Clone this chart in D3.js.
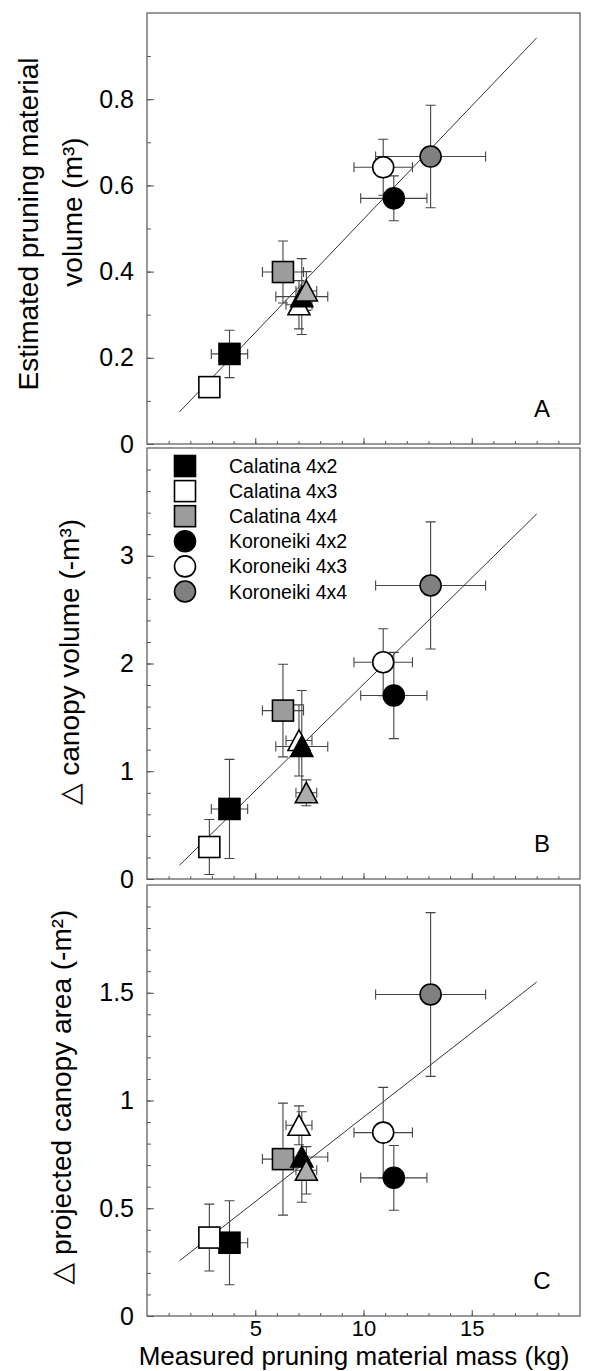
<!DOCTYPE html>
<html>
<head>
<meta charset="utf-8">
<script src="https://cdn.jsdelivr.net/npm/d3@7"></script>
<style>
  html, body { margin: 0; padding: 0; background: #fff; }
  svg { display: block; }
  text { font-family: "Liberation Sans", Arial, "DejaVu Sans", sans-serif; fill: #000; }
</style>
</head>
<body>
<svg id="chart" width="593" height="1371"></svg>
<script>
// Treatments (the triangle group is not named in the original legend)
const groups = ['Calatina 4x2', 'Calatina 4x3', 'Calatina 4x4',
                'Koroneiki 4x2', 'Koroneiki 4x3', 'Koroneiki 4x4',
                'Triangle 4x2', 'Triangle 4x3', 'Triangle 4x4'];
const legendGroups = groups.slice(0, 6);

// Measured pruning material mass (kg) and its error
const massKg  = [3.81, 2.88, 6.28, 11.40, 10.91, 13.10, 7.15, 7.02, 7.36];
const massErr = [0.84, 0.40, 0.95, 1.53, 1.35, 2.54, 1.20, 0.60, 0.48];

// Panel A: estimated pruning material volume (m3)
const volumeA    = [0.209, 0.132, 0.399, 0.570, 0.642, 0.667, 0.342, 0.323, 0.355];
const volumeAErr = [0.055, 0.020, 0.072, 0.052, 0.065, 0.119, 0.088, 0.056, 0.045];

// Panel B: delta canopy volume (-m3)
const canopyB    = [0.65, 0.297, 1.563, 1.703, 2.012, 2.724, 1.23, 1.286, 0.80];
const canopyBErr = [0.46, 0.255, 0.43, 0.40, 0.31, 0.59, 0.52, 0.33, 0.12];

// Panel C: delta projected canopy area (-m2)
const areaC    = [0.34, 0.364, 0.728, 0.641, 0.851, 1.492, 0.738, 0.885, 0.676];
const areaCErr = [0.195, 0.155, 0.26, 0.15, 0.21, 0.38, 0.21, 0.09, 0.11];

// Linear fits drawn in each panel
const fitSlope     = [0.0526, 0.1976, 0.0784];
const fitIntercept = [-0.0045, -0.169, 0.1385];
const fitRange     = [1.5, 18];

// Axis ticks / labels
const xMajorTicks = [5, 10, 15];
const xTickLabels = ['5', '10', '15'];
const yMajorTicks = [[0, 0.2, 0.4, 0.6, 0.8], [0, 1, 2, 3], [0, 0.5, 1, 1.5]];
const yTickLabels = [['0', '0.2', '0.4', '0.6', '0.8'], ['0', '1', '2', '3'], ['0', '0.5', '1', '1.5']];
const yDomains    = [[0, 1], [0, 4], [0, 2]];
const yMinorStep  = [0.1, 0.2, 0.1];
const panelLetters = ['A', 'B', 'C'];

// styles
const shapes = ['square', 'square', 'square', 'circle', 'circle', 'circle', 'triangle', 'triangle', 'triangle'];
const fills  = ['#000', '#fff', '#9c9c9c', '#000', '#fff', '#808080', '#000', '#fff', '#acacac'];
const drawOrder = [0, 1, 2, 3, 4, 5, 7, 6, 8];

const svg = d3.select('#chart');
const left = 147, plotW = 433;
const panelTops = [13, 448, 885], plotH = 431;
const axisColor = '#555';

const x = d3.scaleLinear().domain([0, 20]).range([left, left + plotW]);

function marker(sel, shape, fill) {
  if (shape === 'square') {
    sel.append('rect').attr('x', -10.5).attr('y', -10.5).attr('width', 21).attr('height', 21);
  } else if (shape === 'circle') {
    sel.append('circle').attr('r', 10.5);
  } else {
    sel.append('path').attr('d', 'M0,-10.5L11,10L-11,10Z');
  }
  sel.selectAll('rect,circle,path')
    .attr('fill', fill).attr('stroke', '#000').attr('stroke-width', 1.6);
}

const panelY = [volumeA, canopyB, areaC];
const panelErr = [volumeAErr, canopyBErr, areaCErr];

panelY.forEach((vals, p) => {
  const top = panelTops[p], bottom = top + plotH;
  const y = d3.scaleLinear().domain(yDomains[p]).range([bottom, top]);
  const g = svg.append('g');

  // frame
  g.append('rect')
    .attr('x', left).attr('y', top).attr('width', plotW).attr('height', plotH)
    .attr('fill', 'none').attr('stroke', axisColor).attr('stroke-width', 1.2);

  // y minor ticks
  const yMinor = d3.range(yMinorStep[p], yDomains[p][1] - 1e-9, yMinorStep[p]);
  g.append('g').attr('transform', `translate(${left},0)`)
    .call(d3.axisLeft(y).tickValues(yMinor).tickSize(-4).tickFormat(''))
    .call(a => a.select('.domain').remove())
    .call(a => a.selectAll('line').attr('stroke', axisColor));

  // y major ticks + labels
  g.append('g').attr('transform', `translate(${left},0)`)
    .call(d3.axisLeft(y).tickValues(yMajorTicks[p]).tickSize(-7).tickPadding(13)
      .tickFormat((d, i) => yTickLabels[p][i]))
    .call(a => a.select('.domain').remove())
    .call(a => a.selectAll('line').attr('stroke', axisColor))
    .call(a => a.selectAll('text').attr('font-size', 25)
      .attr('font-family', '"Liberation Sans", Arial, sans-serif').attr('fill', '#000'));

  // x minor + major ticks
  g.append('g').attr('transform', `translate(0,${bottom})`)
    .call(d3.axisBottom(x).tickValues(d3.range(1, 20)).tickSize(-3).tickFormat(''))
    .call(a => a.select('.domain').remove())
    .call(a => a.selectAll('line').attr('stroke', axisColor));
  g.append('g').attr('transform', `translate(0,${bottom})`)
    .call(d3.axisBottom(x).tickValues(xMajorTicks).tickSize(-6).tickPadding(4)
      .tickFormat((d, i) => p === 2 ? xTickLabels[i] : ''))
    .call(a => a.select('.domain').remove())
    .call(a => a.selectAll('line').attr('stroke', axisColor))
    .call(a => a.selectAll('text').attr('font-size', 22)
      .attr('font-family', '"Liberation Sans", Arial, sans-serif').attr('fill', '#000'));

  // fit line
  g.append('line')
    .attr('x1', x(fitRange[0])).attr('y1', y(fitSlope[p] * fitRange[0] + fitIntercept[p]))
    .attr('x2', x(fitRange[1])).attr('y2', y(fitSlope[p] * fitRange[1] + fitIntercept[p]))
    .attr('stroke', '#333').attr('stroke-width', 1);

  // error bars
  const errs = panelErr[p];
  const cap = 5;
  const eb = g.append('g').attr('stroke', '#444').attr('stroke-width', 1.1).attr('fill', 'none');
  drawOrder.forEach(i => {
    const cx = x(massKg[i]), cy = y(vals[i]);
    const x0 = x(massKg[i] - massErr[i]), x1 = x(massKg[i] + massErr[i]);
    const y0 = y(vals[i] - errs[i]), y1 = y(vals[i] + errs[i]);
    eb.append('path').attr('d',
      `M${x0},${cy}H${x1}M${x0},${cy - cap}V${cy + cap}M${x1},${cy - cap}V${cy + cap}` +
      `M${cx},${y0}V${y1}M${cx - cap},${y0}H${cx + cap}M${cx - cap},${y1}H${cx + cap}`);
  });

  // markers
  drawOrder.forEach(i => {
    const m = g.append('g').attr('transform', `translate(${x(massKg[i])},${y(vals[i])})`);
    marker(m, shapes[i], fills[i]);
  });

  // panel letter
  g.append('text').attr('x', 542).attr('y', bottom - 27)
    .attr('text-anchor', 'middle').attr('font-size', 24).text(panelLetters[p]);
});

// legend in panel B
const legend = svg.append('g');
legendGroups.forEach((name, i) => {
  const ly = 466 + i * 25.1;
  const m = legend.append('g').attr('transform', `translate(185,${ly})`);
  marker(m, shapes[i], fills[i]);
  legend.append('text').attr('x', 229).attr('y', ly + 7)
    .attr('font-size', 19.5).text(name);
});

// y axis titles
function yTitle(cx, cy, txt) {
  svg.append('text')
    .attr('transform', `translate(${cx},${cy}) rotate(-90)`)
    .attr('text-anchor', 'middle').attr('font-size', 28).text(txt);
}
yTitle(38, 224, 'Estimated pruning material');
yTitle(82, 212, 'volume (m³)');
yTitle(79, 662, '△ canopy volume (-m³)');
yTitle(71, 1097, '△ projected canopy area (-m²)');

// x axis title
svg.append('text').attr('x', 354).attr('y', 1365)
  .attr('text-anchor', 'middle').attr('font-size', 26)
  .text('Measured pruning material mass (kg)');
</script>
</body>
</html>
